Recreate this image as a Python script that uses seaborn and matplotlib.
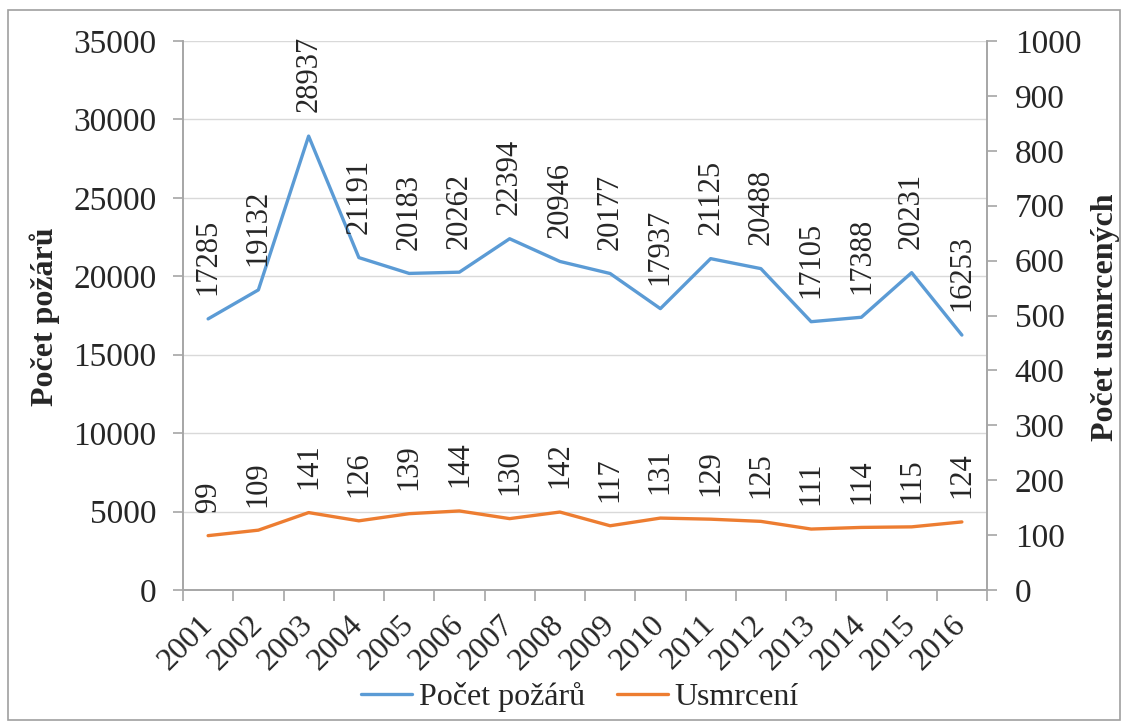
import matplotlib
matplotlib.use("Agg")
import matplotlib.pyplot as plt
from matplotlib.patches import Rectangle
from matplotlib.lines import Line2D
import seaborn as sns
import pandas as pd
import numpy as np

years = ["2001", "2002", "2003", "2004", "2005", "2006", "2007", "2008",
         "2009", "2010", "2011", "2012", "2013", "2014", "2015", "2016"]
pozary = [17285, 19132, 28937, 21191, 20183, 20262, 22394, 20946,
          20177, 17937, 21125, 20488, 17105, 17388, 20231, 16253]
usmrceni = [99, 109, 141, 126, 139, 144, 130, 142,
            117, 131, 129, 125, 111, 114, 115, 124]

sns.set_theme(style="white")
plt.rcParams["font.family"] = ["Liberation Serif", "DejaVu Serif"]
plt.rcParams["font.size"] = 23

blue = "#5B9BD5"
orange = "#ED7D31"
axis_grey = "#A6A6A6"

df = pd.DataFrame({"pos": np.arange(len(years)), "rok": years,
                   "pozary": pozary, "usmrceni": usmrceni})

fig = plt.figure(figsize=(11.26, 7.26), dpi=100)
fig.patches.append(Rectangle((8 / 1126, 6 / 726), 1112 / 1126, 710 / 726,
                             transform=fig.transFigure, fill=False,
                             edgecolor="#A0A0A0", linewidth=1.2))

ax = fig.add_axes([183 / 1126, 1 - 590 / 726, 804 / 1126, 549 / 726])
ax2 = ax.twinx()

sns.lineplot(data=df, x="pos", y="pozary", ax=ax, color=blue, linewidth=2.4)
sns.lineplot(data=df, x="pos", y="usmrceni", ax=ax2, color=orange, linewidth=2.4)

ax.set_xlim(-0.5, len(years) - 0.5)
ax.set_ylim(0, 35000)
ax2.set_ylim(0, 1000)
ax.set_yticks(np.arange(0, 35001, 5000))
ax2.set_yticks(np.arange(0, 1001, 100))

ax.grid(axis="y", color="#D9D9D9", linewidth=1.0)
ax.set_axisbelow(True)

for a in (ax, ax2):
    a.spines["top"].set_visible(False)
    for side in ("left", "right", "bottom"):
        a.spines[side].set_color(axis_grey)
        a.spines[side].set_linewidth(1.2)

ax.tick_params(axis="y", which="major", direction="out", length=7, width=1.2,
               color=axis_grey, pad=12, labelsize=24, left=True)
ax2.tick_params(axis="y", which="major", direction="out", length=7, width=1.2,
                color=axis_grey, pad=13, labelsize=24, right=True)

# category labels at centres, tick marks on the category boundaries
ax.set_xticks(df["pos"])
ax.set_xticklabels(years, rotation=45, ha="right", va="center",
                   rotation_mode="anchor", fontsize=23)
ax.tick_params(axis="x", which="major", length=0, pad=22)
ax.set_xticks(np.arange(-0.5, len(years), 1.0), minor=True)
ax.tick_params(axis="x", which="minor", direction="out", length=8, width=1.2,
               color=axis_grey, bottom=True)
ax.set_xlabel("")
ax.set_ylabel("")
ax2.set_ylabel("")

# value labels above each point
for x, v in zip(df["pos"], pozary):
    ax.annotate(str(v), (x, v), xytext=(0, 17), textcoords="offset points",
                rotation=90, ha="center", va="bottom", fontsize=22)
for x, v in zip(df["pos"], usmrceni):
    ax2.annotate(str(v), (x, v), xytext=(0, 17), textcoords="offset points",
                 rotation=90, ha="center", va="bottom", fontsize=22)

fig.text(45 / 1126, 1 - 317 / 726, "Počet požárů", rotation=90,
         ha="center", va="center", fontsize=23, fontweight="bold")
fig.text(1106 / 1126, 1 - 317 / 726, "Počet usmrcených", rotation=90,
         ha="center", va="center", fontsize=23, fontweight="bold")

handles = [Line2D([], [], color=blue, linewidth=2.4),
           Line2D([], [], color=orange, linewidth=2.4)]
fig.legend(handles, ["Počet požárů", "Usmrcení"], loc="center",
           bbox_to_anchor=(580 / 1126, 1 - 697 / 726), ncol=2, frameon=False,
           fontsize=23, handlelength=1.6, handletextpad=0.2, columnspacing=1.0)

fig.savefig("out.png", dpi=100)
